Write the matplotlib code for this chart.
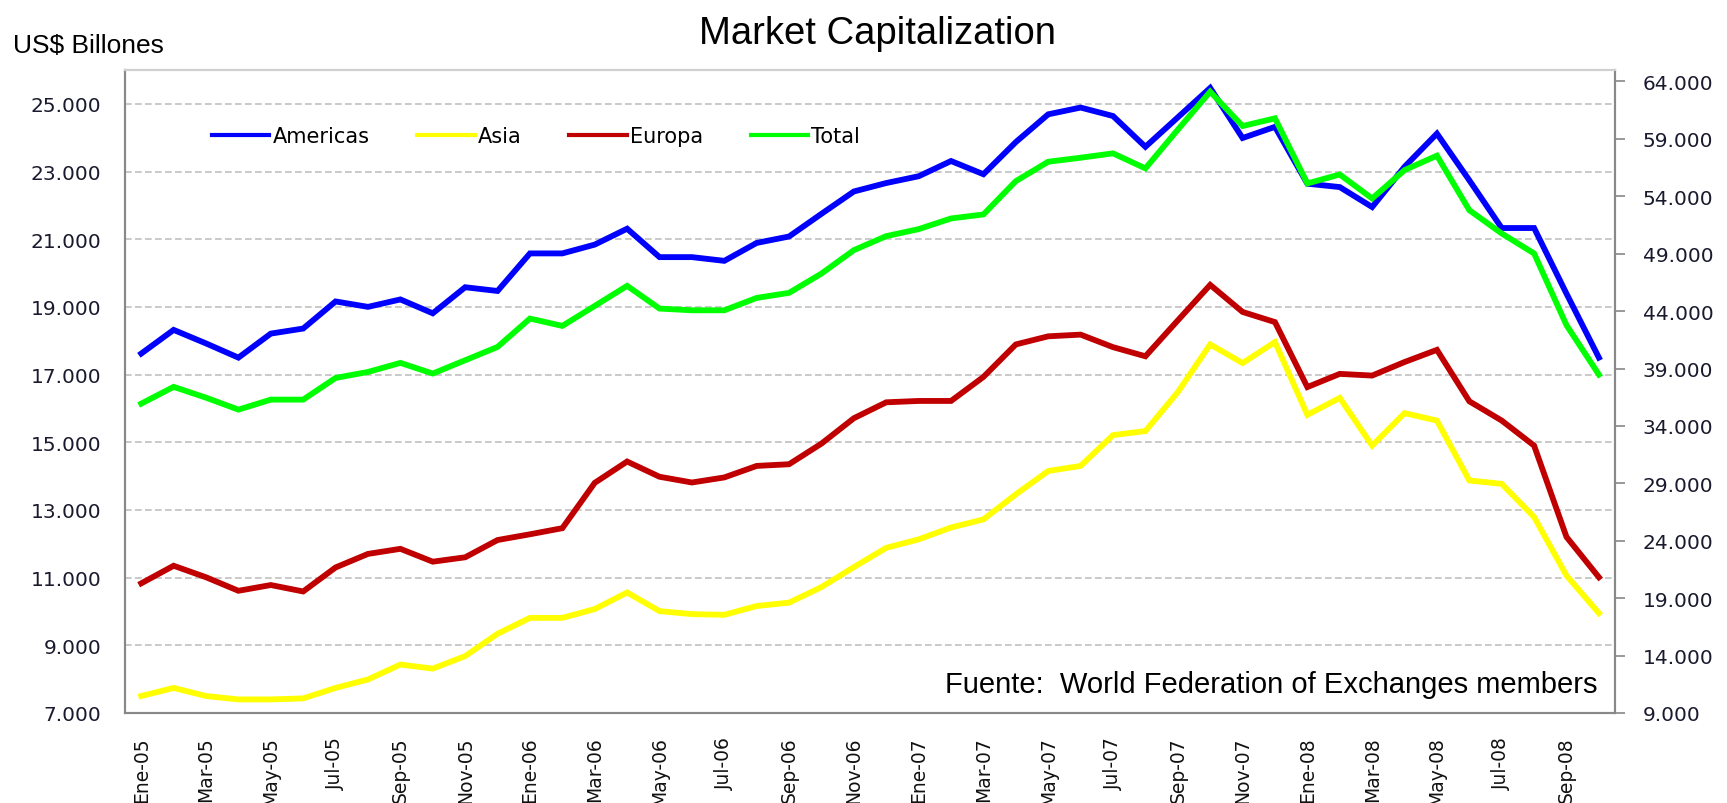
import matplotlib
matplotlib.use("Agg")
import matplotlib.pyplot as plt
from matplotlib.lines import Line2D
from matplotlib.ticker import FuncFormatter, FixedLocator

# monthly data Ene-05 .. Oct-08 (US$ billones)
meses = ['Ene', 'Feb', 'Mar', 'Abr', 'May', 'Jun', 'Jul', 'Ago', 'Sep', 'Oct', 'Nov', 'Dic']
anios = ['05', '06', '07', '08']
n_meses = 46

americas = [17620, 18320, 17920, 17500, 18210, 18360, 19160, 19000, 19220, 18810,
            19580, 19470, 20580, 20580, 20840, 21310, 20470, 20470, 20360, 20890,
            21080, 21750, 22410, 22660, 22860, 23310, 22920, 23870, 24690, 24890,
            24640, 23730, 24600, 25470, 23990, 24320, 22640, 22540, 21950, 23140,
            24120, 22740, 21330, 21330, 19390, 17500]
asia = [7500, 7740, 7500, 7400, 7400, 7430, 7740, 7990, 8430, 8310,
        8680, 9340, 9810, 9810, 10070, 10560, 10010, 9920, 9900, 10160,
        10260, 10720, 11310, 11880, 12130, 12480, 12720, 13460, 14150, 14300,
        15210, 15330, 16480, 17890, 17340, 17960, 15810, 16310, 14900, 15860,
        15640, 13870, 13770, 12790, 11060, 9950]
europa = [10830, 11350, 11010, 10610, 10780, 10590, 11300, 11700, 11850, 11470,
          11600, 12110, 12280, 12460, 13800, 14430, 13980, 13810, 13960, 14300,
          14350, 14960, 15710, 16180, 16220, 16220, 16930, 17890, 18130, 18180,
          17810, 17540, 18600, 19650, 18850, 18550, 16630, 17020, 16970, 17370,
          17730, 16210, 15640, 14900, 12200, 11010]
# Total on right axis
total = [35940, 37400, 36460, 35420, 36290, 36290, 38180, 38700, 39490, 38560,
         39720, 40880, 43350, 42710, 44450, 46200, 44220, 44070, 44070, 45150,
         45590, 47270, 49310, 50530, 51140, 52070, 52420, 55320, 57010, 57360,
         57740, 56430, 59800, 63110, 60120, 60790, 55120, 55900, 53810, 56280,
         57540, 52790, 50760, 49020, 42770, 38470]

etiquetas = [m + '-' + a for a in anios for m in meses][:n_meses]
x = list(range(n_meses))

miles = FuncFormatter(lambda v, p: f"{int(v):,}".replace(",", "."))

fig = plt.figure(figsize=(17.27, 8.04), dpi=100)
ax = fig.add_axes([0.0724, 0.112, 0.8628, 0.7997])
ax2 = ax.twinx()

ax.plot(x, americas, color='#0000ff', lw=4.2, solid_joinstyle='miter')
ax.plot(x, asia, color='#ffff00', lw=4.2, solid_joinstyle='miter')
ax.plot(x, europa, color='#c00000', lw=4.2, solid_joinstyle='miter')
ax2.plot(x, total, color='#00ff00', lw=4.2, solid_joinstyle='miter')

ax.set_xlim(-0.5, 45.5)
ax.set_ylim(7000, 26000)
ax2.set_ylim(9000, 65000)

ax.yaxis.set_major_locator(FixedLocator(range(7000, 25001, 2000)))
ax2.yaxis.set_major_locator(FixedLocator(range(9000, 64001, 5000)))
ax.yaxis.set_major_formatter(miles)
ax2.yaxis.set_major_formatter(miles)
ax.grid(axis='y', color='#c0c0c0', linestyle=(0, (4, 2)), lw=1.2)
ax.set_axisbelow(True)

ax.set_xticks(x[::2])
ax.set_xticklabels(etiquetas[::2], rotation=90, fontsize=13.5, color='#111111')
ax.tick_params(axis='x', length=0, pad=17)
ax.tick_params(axis='y', length=0, pad=17, labelsize=14.5, labelcolor='#1a1a2e')
ax2.tick_params(axis='y', length=7, width=1.2, color='#888888', pad=13,
                labelsize=14.5, labelcolor='#1a1a2e')

for a in (ax, ax2):
    a.spines['left'].set_color('#888888')
    a.spines['bottom'].set_color('#888888')
    a.spines['right'].set_color('#888888')
    a.spines['top'].set_color('#d0d0d0')
    for s in a.spines.values():
        s.set_linewidth(1.5)

handles = [Line2D([], [], color='#0000ff', lw=3),
           Line2D([], [], color='#ffff00', lw=3),
           Line2D([], [], color='#c00000', lw=3),
           Line2D([], [], color='#00ff00', lw=3)]
ax2.legend(handles, ['Americas', 'Asia', 'Europa', 'Total'], ncol=4, frameon=False,
           loc='center left', bbox_to_anchor=(0.0584, 0.897), fontsize=15,
           borderaxespad=0, borderpad=0,
           handlelength=2.75, handletextpad=0.15, columnspacing=2.3)

fig.text(0.508, 0.958, 'Market Capitalization', ha='center', va='center',
         fontsize=27.5, family='Liberation Sans')
fig.text(0.0076, 0.943, 'US$ Billones', ha='left', va='center',
         fontsize=19, family='Liberation Sans')
ax.text(0.988, 0.045, 'Fuente:  World Federation of Exchanges members',
        transform=ax.transAxes, ha='right', va='center', fontsize=21,
        family='Liberation Sans')

fig.savefig('out.png', dpi=100)
